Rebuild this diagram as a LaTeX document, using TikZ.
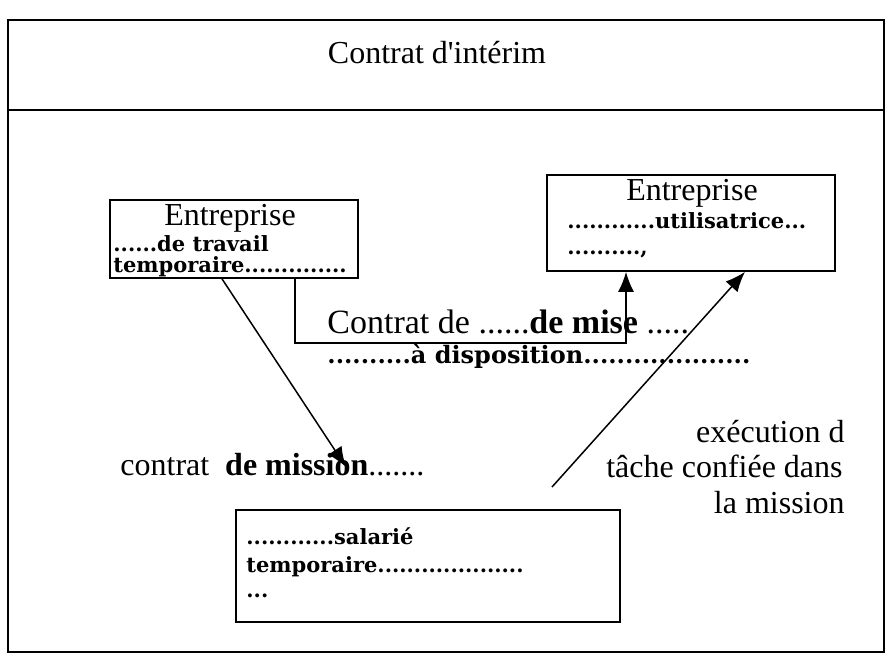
\documentclass[tikz,border=0pt]{standalone}
\usepackage{fontspec}
\setmainfont{Liberation Serif}
\newfontfamily\wideserif{DejaVu Serif}
\usetikzlibrary{fit,arrows.meta}
\tikzset{
  frameline/.style={draw=black, line width=1pt},
  boxstyle/.style={draw=black, line width=0.85pt, inner sep=0pt},
  reg/.style={inner sep=0pt, anchor=base west, font=\fontsize{16}{19}\selectfont},
  regc/.style={inner sep=0pt, anchor=base, font=\fontsize{16}{19}\selectfont},
  rege/.style={inner sep=0pt, anchor=base east, font=\fontsize{16}{19}\selectfont},
  wb/.style={inner sep=0pt, anchor=base west, font=\wideserif\bfseries\fontsize{10.5}{12}\selectfont},
  conn/.style={draw=black, line width=0.75pt},
  arr/.style={conn, -{Latex[length=10pt,width=8pt]}}
}
\begin{document}
\begin{tikzpicture}[x=0.5pt,y=-0.5pt]
\useasboundingbox (0,0) rectangle (889,663);
\fill[white] (0,0) rectangle (889,663);
% outer frame
\draw[frameline] (8,20) rectangle (884,652);
\draw[frameline] (8,110) -- (884,110);
\node[regc] (title) at (437,64) {Contrat d\textquotesingle intérim};
% box 1
\node[boxstyle, fit={(110,200)(358,278)}] (b1) {};
\node[regc] (b1a) at (230,226) {Entreprise};
\node[wb] (b1b) at (113,252) {......de travail};
\node[wb] (b1c) at (113,273) {temporaire..............};
% box 2
\node[boxstyle, fit={(547,175)(835,271)}] (b2) {};
\node[regc] (b2a) at (692,201) {Entreprise};
\node[wb] (b2b) at (567,229) {............utilisatrice...};
\node[wb] (b2c) at (567,255) {..........,};
% box 3
\node[boxstyle, fit={(236,510)(620,622)}] (b3) {};
\node[wb] (b3a) at (246,544) {............salarié};
\node[wb] (b3b) at (246,572) {temporaire....................};
\node[wb] (b3c) at (246,597) {...};
% labels
\node[reg, font=\fontsize{17}{20}\selectfont] (l1) at (327,334) {Contrat de ......\textbf{de mise} .....};
\node[wb, font=\wideserif\bfseries\fontsize{12}{14}\selectfont] (l2) at (327,364) {..........à disposition....................};
\node[reg] (l3) at (120,475) {contrat\ \ \textbf{de mission}.......};
\node[rege] (r1) at (845,442) {exécution d};
\node[rege] (r2) at (843,477) {tâche confiée dans};
\node[rege] (r3) at (845,513) {la mission};
% connectors
\coordinate (k1) at (295,0);
\coordinate (k2) at (626,343);
\coordinate (k3) at (222,0);
\coordinate (t1) at (346,467);
\coordinate (s2) at (552,487);
\coordinate (k4) at (745,0);
\draw[arr] (b1.south -| k1) -- (k1 |- k2) -- (k2) -- (b2.south -| k2);
\draw[arr] (b1.south -| k3) -- (t1);
\draw[arr] (s2) -- (b2.south -| k4);
\end{tikzpicture}
\end{document}
